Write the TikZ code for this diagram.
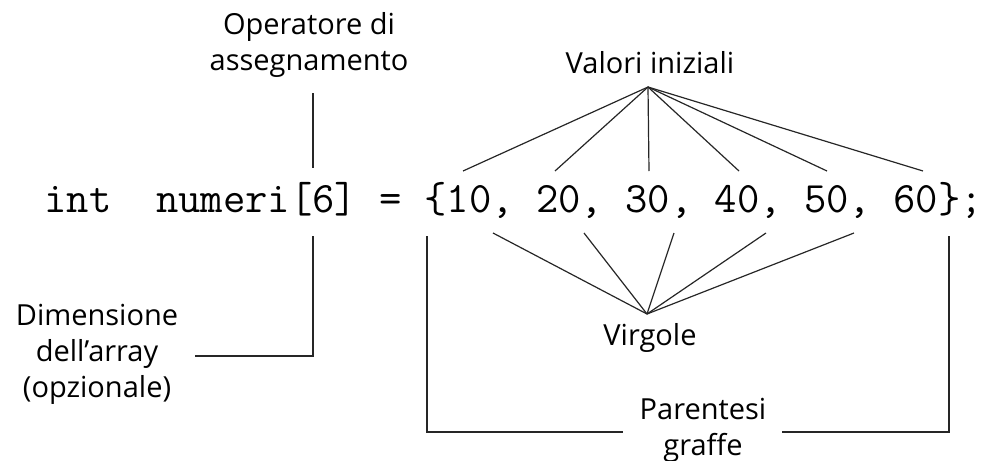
\documentclass[tikz,border=0pt]{standalone}
\usepackage{fontspec}
\setmainfont{Open Sans}
\setmonofont{Latin Modern Mono}
\usetikzlibrary{positioning}

\begin{document}
\begin{tikzpicture}[x=0.5pt,y=-0.5pt]
  \tikzstyle{codeLine} = [inner sep=0pt, anchor=base west, font={\ttfamily\fontsize{21.7}{24}\selectfont}];
  \tikzstyle{noteText} = [align=center, inner sep=0pt, font={\fontsize{14.5}{18}\selectfont}];
  \tikzstyle{leader} = [line width=0.6pt, black!85];
  \useasboundingbox (0,0) rectangle (981,461);
  \node[codeLine, name=decl] at (44,212) {int~~numeri[6]~=~\{10,~20,~30,~40,~50,~60\};};
  \node[noteText, name=operator] at (309,45) {Operatore di\\assegnamento};
  \node[noteText, name=size] at (97,354) {Dimensione\\dell'array\\(opzionale)};
  \node[noteText, name=values] at (650,63) {Valori iniziali};
  \node[noteText, name=commas] at (650,338) {Virgole};
  \node[noteText, name=braces] at (703,430) {Parentesi\\graffe};

  \coordinate (opTop) at (313,93);
  \coordinate (opBot) at (313,168);
  \coordinate (sizeTop) at (313,236);
  \coordinate (sizeEnd) at (195,356);
  \coordinate (valTop) at (648,87);
  \coordinate (comBot) at (647,314);
  \coordinate (lbTop) at (427,236);
  \coordinate (lbEnd) at (623,432);
  \coordinate (rbTop) at (949,236);
  \coordinate (rbEnd) at (782,432);
  \foreach \x [count=\i] in {463,555,649,739,827,923}
    \coordinate (val\i) at (\x,171);
  \foreach \x [count=\i] in {493,584,674,766,854}
    \coordinate (com\i) at (\x,233);

  \draw[leader] (opTop) -- (opBot);
  \draw[leader] (sizeTop) |- (sizeEnd);
  \draw[leader] (lbTop) |- (lbEnd);
  \draw[leader] (rbTop) |- (rbEnd);
  \foreach \i in {1,...,6}
    \draw[leader] (valTop) -- (val\i);
  \foreach \i in {1,...,5}
    \draw[leader] (comBot) -- (com\i);
\end{tikzpicture}
\end{document}
